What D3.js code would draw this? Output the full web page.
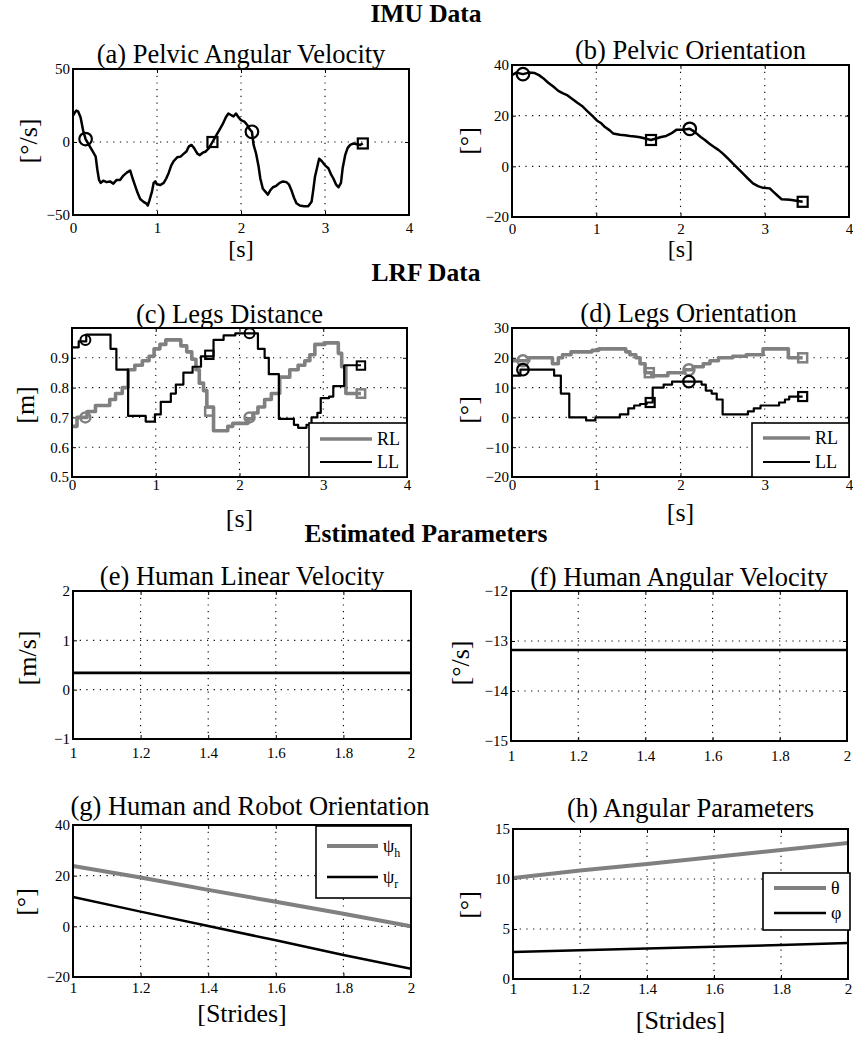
<!DOCTYPE html>
<html><head><meta charset="utf-8">
<script src="https://cdnjs.cloudflare.com/ajax/libs/d3/7.8.5/d3.min.js"></script>
<style>
body{margin:0;background:#fff}
svg{display:block}
text{font-family:"Liberation Serif","Times New Roman",serif;fill:#000}
</style>
</head><body>
<svg id="c" width="853" height="1040"></svg>
<script>
// ---------------- DATA ----------------
const sectionTitles = ["IMU Data", "LRF Data", "Estimated Parameters"];
const panelTitles = ["(a) Pelvic Angular Velocity","(b) Pelvic Orientation","(c) Legs Distance","(d) Legs Orientation",
  "(e) Human Linear Velocity","(f) Human Angular Velocity","(g) Human and Robot Orientation","(h) Angular Parameters"];

const ticksTime = [0,1,2,3,4];
const ticksStrides = [1,1.2,1.4,1.6,1.8,2];
const ticksA = [-50,0,50];
const ticksB = [-20,0,20,40];
const ticksC = [0.5,0.6,0.7,0.8,0.9];
const ticksD = [-20,-10,0,10,20,30];
const ticksE = [-1,0,1,2];
const ticksF = [-15,-14,-13,-12];
const ticksG = [-20,0,20,40];
const ticksH = [0,5,10,15];

// (a) pelvic angular velocity [t, deg/s]
const pelvicAngVel = [[0,18],[0.02,20],[0.04,21.5],[0.06,21],[0.09,17],[0.12,8],[0.15,2],[0.2,-3],[0.24,-7],[0.27,-10],[0.29,-19],[0.31,-26],[0.33,-28],[0.36,-26.5],[0.4,-27.5],[0.44,-27],[0.48,-28.5],[0.52,-26],[0.56,-26],[0.6,-23],[0.64,-21],[0.68,-19.5],[0.71,-25],[0.74,-30],[0.77,-35],[0.8,-39],[0.84,-41],[0.87,-42],[0.89,-43.5],[0.91,-40],[0.94,-34],[0.96,-28],[0.98,-27],[1.0,-29],[1.04,-29.5],[1.08,-28],[1.11,-25],[1.14,-21],[1.17,-16],[1.2,-13],[1.24,-10.5],[1.28,-10],[1.32,-8],[1.35,-6.5],[1.38,-3],[1.41,-2],[1.44,-4],[1.48,-8],[1.51,-9],[1.54,-7.5],[1.58,-6.5],[1.62,-4],[1.66,0],[1.7,4],[1.74,8],[1.78,12],[1.82,17],[1.85,19.5],[1.88,18.5],[1.91,17.5],[1.94,19.5],[1.97,17],[2.0,15],[2.04,14],[2.07,12],[2.1,9],[2.13,7],[2.15,-2],[2.18,-8],[2.21,-17],[2.23,-25],[2.26,-32],[2.29,-34],[2.32,-36],[2.35,-33],[2.38,-31],[2.42,-30],[2.46,-28],[2.5,-27],[2.54,-27.5],[2.57,-29],[2.6,-33],[2.63,-38],[2.66,-42],[2.7,-43.5],[2.75,-44],[2.8,-44],[2.84,-41],[2.86,-33],[2.88,-24],[2.9,-19],[2.93,-11.5],[2.96,-13],[3.0,-16],[3.04,-18],[3.07,-22],[3.1,-25],[3.13,-29],[3.16,-31],[3.19,-28],[3.21,-18],[3.24,-9],[3.27,-4],[3.3,-2],[3.34,-1],[3.38,-1.5],[3.42,-2],[3.45,-1]];
const circlesA = [[0.15,2],[2.13,7]];
const squaresA = [[1.66,0],[3.45,-1]];

// (b) pelvic orientation [t, deg]
const pelvicOrient = [[0,36],[0.05,37],[0.13,36.4],[0.2,37],[0.27,36.8],[0.32,36],[0.37,34.8],[0.43,33],[0.49,31.5],[0.55,29.8],[0.6,28.9],[0.66,28],[0.72,26.5],[0.78,25],[0.84,23.6],[0.9,21.6],[0.96,19.7],[1.01,18],[1.06,17],[1.1,15.6],[1.16,14.2],[1.2,13],[1.28,12.5],[1.34,12.3],[1.4,12],[1.46,11.8],[1.52,11.5],[1.58,11],[1.65,10.4],[1.71,11],[1.77,11.6],[1.83,12],[1.89,13],[1.95,14.4],[2.03,14.4],[2.11,14.8],[2.15,14],[2.19,13],[2.24,11.6],[2.29,10.4],[2.34,9],[2.39,7.8],[2.45,6.5],[2.5,5.1],[2.56,3.2],[2.62,1.2],[2.68,-0.8],[2.74,-2.8],[2.8,-4.8],[2.86,-6.7],[2.92,-7.8],[2.98,-8.5],[3.06,-8.7],[3.1,-10],[3.15,-11.5],[3.2,-13],[3.3,-13.2],[3.45,-14]];
const circlesB = [[0.13,36.4],[2.11,14.8]];
const squaresB = [[1.65,10.4],[3.45,-14]];

// (c) legs distance, step series [t, m]
const distRL = [[0,0.67],[0.06,0.70],[0.18,0.72],[0.28,0.74],[0.45,0.76],[0.52,0.78],[0.60,0.80],[0.67,0.86],[0.75,0.875],[0.84,0.89],[0.92,0.905],[0.98,0.93],[1.05,0.945],[1.12,0.96],[1.30,0.94],[1.37,0.92],[1.43,0.895],[1.48,0.86],[1.52,0.815],[1.57,0.79],[1.61,0.735],[1.69,0.655],[1.86,0.67],[1.92,0.68],[2.10,0.695],[2.16,0.715],[2.22,0.735],[2.30,0.76],[2.38,0.78],[2.48,0.835],[2.60,0.86],[2.70,0.875],[2.78,0.89],[2.84,0.91],[2.90,0.945],[3.02,0.95],[3.18,0.915],[3.22,0.87],[3.27,0.78],[3.45,0.78]];
const distLL = [[0,0.935],[0.08,0.955],[0.17,0.978],[0.46,0.93],[0.53,0.86],[0.67,0.705],[0.88,0.686],[0.99,0.71],[1.06,0.752],[1.18,0.78],[1.24,0.81],[1.33,0.85],[1.44,0.87],[1.54,0.905],[1.69,0.96],[1.81,0.975],[1.95,0.982],[2.22,0.93],[2.30,0.90],[2.35,0.845],[2.47,0.695],[2.65,0.675],[2.70,0.665],[2.80,0.675],[2.86,0.70],[2.93,0.715],[2.97,0.765],[3.07,0.77],[3.12,0.805],[3.25,0.875],[3.45,0.875]];
const circlesCRL = [[0.16,0.70],[2.12,0.70]];
const squaresCRL = [[1.64,0.72],[3.45,0.78]];
const circlesCLL = [[0.16,0.96],[2.12,0.982]];
const squaresCLL = [[1.64,0.91],[3.45,0.874]];

// (d) legs orientation, step series [t, deg]
const orientRL = [[0,19],[0.2,20],[0.48,18],[0.55,20],[0.6,21],[0.7,22],[0.95,22.5],[1.03,23],[1.35,22],[1.4,21],[1.47,20],[1.52,18],[1.58,15],[1.66,14],[1.85,15],[2.05,16],[2.15,17],[2.27,18],[2.35,19],[2.45,20],[2.62,20.5],[2.78,21],[2.98,23],[3.28,20],[3.45,20]];
const orientLL = [[0,14],[0.1,16],[0.5,14],[0.58,8],[0.68,0],[0.88,-1],[0.99,0],[1.28,1],[1.38,3],[1.45,4],[1.52,4.5],[1.6,5],[1.67,10],[1.8,11],[1.9,12],[2.25,11],[2.3,9],[2.37,8],[2.43,6],[2.5,1],[2.8,2],[2.87,3],[2.95,4],[3.17,5],[3.24,6],[3.29,7],[3.45,7]];
const circlesDRL = [[0.13,19],[2.1,16]];
const squaresDRL = [[1.63,15],[3.45,20]];
const circlesDLL = [[0.13,16],[2.1,12]];
const squaresDLL = [[1.64,5],[3.45,7]];

// (e)-(h) estimated parameters [stride, value]
const linVel = [[1,0.34],[2,0.34]];
const angVel = [[1,-13.18],[2,-13.18]];
const psiH = [[1,23.8],[1.2,19.3],[1.4,14.4],[1.6,9.7],[1.8,5.0],[2,0]];
const psiR = [[1,11.6],[1.2,5.8],[1.4,0.1],[1.6,-5.5],[1.8,-11.3],[2,-16.8]];
const theta = [[1,10.1],[1.2,10.85],[1.4,11.5],[1.6,12.2],[1.8,12.9],[2,13.6]];
const phi = [[1,2.7],[1.2,2.88],[1.4,3.05],[1.6,3.22],[1.8,3.4],[2,3.6]];

const legendLabels = ["RL","LL"];

// ---------------- DRAW ----------------
const svg = d3.select('#c');
const GRAY = '#808080';
const fmt = d => (d < 0 ? '\u2212' : '') + Math.abs(d);
const TITLE_FS = 26.5, LABEL_FS = 26, TICK_FS = 15;

function panel(cfg) {
  const x = d3.scaleLinear().domain(cfg.xd).range([cfg.l, cfg.r]);
  const y = d3.scaleLinear().domain(cfg.yd).range([cfg.b, cfg.t]);
  const g = svg.append('g');
  const innerX = cfg.xt.filter(v => v > cfg.xd[0] + 1e-9 && v < cfg.xd[1] - 1e-9);
  const innerY = cfg.yt.filter(v => v > cfg.yd[0] + 1e-9 && v < cfg.yd[1] - 1e-9);
  g.selectAll(null).data(innerX).join('line')
    .attr('x1', d => x(d)).attr('x2', d => x(d)).attr('y1', cfg.t).attr('y2', cfg.b)
    .attr('stroke', '#000').attr('stroke-width', 1.1).attr('stroke-dasharray', '1.2,5.5');
  g.selectAll(null).data(innerY).join('line')
    .attr('y1', d => y(d)).attr('y2', d => y(d)).attr('x1', cfg.l).attr('x2', cfg.r)
    .attr('stroke', '#000').attr('stroke-width', 1.1).attr('stroke-dasharray', '1.2,5.5');

  // axes
  const ax = [
    [d3.axisBottom(x).tickValues(cfg.xt).tickFormat(fmt).tickPadding(cfg.xpad), cfg.b, null],
    [d3.axisTop(x).tickValues(cfg.xt).tickFormat(''), cfg.t, null],
    [d3.axisLeft(y).tickValues(cfg.yt).tickFormat(cfg.yfmt || fmt).tickPadding(3), null, cfg.l],
    [d3.axisRight(y).tickValues(cfg.yt).tickFormat(''), null, cfg.r]
  ];
  ax.forEach(([a, ty, tx]) => {
    a.tickSizeInner(-4).tickSizeOuter(0);
    const ag = g.append('g').attr('transform', ty !== null ? `translate(0,${ty})` : `translate(${tx},0)`).call(a);
    ag.select('.domain').remove();
    ag.selectAll('line').attr('stroke', '#000').attr('stroke-width', 1);
    ag.selectAll('text').attr('font-size', TICK_FS).attr('font-family', '"Liberation Serif",serif');
  });

  // series
  const clip = 'clip' + Math.random().toString(36).slice(2);
  g.append('clipPath').attr('id', clip).append('rect')
    .attr('x', cfg.l).attr('y', cfg.t).attr('width', cfg.r - cfg.l).attr('height', cfg.b - cfg.t);
  cfg.series.forEach(s => {
    const line = d3.line().x(d => x(d[0])).y(d => y(d[1])).curve(s.step ? d3.curveStepAfter : d3.curveLinear);
    g.append('path').datum(s.data).attr('d', line).attr('fill', 'none')
      .attr('stroke', s.color).attr('stroke-width', s.w).attr('stroke-linejoin', 'round')
      .attr('clip-path', `url(#${clip})`);
  });
  (cfg.markers || []).forEach(m => {
    if (m.type === 'circle') {
      g.selectAll(null).data(m.data).join('circle')
        .attr('cx', d => x(d[0])).attr('cy', d => y(d[1])).attr('r', m.size)
        .attr('fill', 'none').attr('stroke', m.color).attr('stroke-width', m.sw);
    } else {
      g.selectAll(null).data(m.data).join('rect')
        .attr('x', d => x(d[0]) - m.size).attr('y', d => y(d[1]) - m.size)
        .attr('width', 2 * m.size).attr('height', 2 * m.size)
        .attr('fill', 'none').attr('stroke', m.color).attr('stroke-width', m.sw);
    }
  });

  // box
  g.append('rect').attr('x', cfg.l).attr('y', cfg.t).attr('width', cfg.r - cfg.l).attr('height', cfg.b - cfg.t)
    .attr('fill', 'none').attr('stroke', '#000').attr('stroke-width', 2);

  // legend
  if (cfg.legend) {
    const L = cfg.legend;
    g.append('rect').attr('x', L.x).attr('y', L.y).attr('width', L.w).attr('height', L.h)
      .attr('fill', '#fff').attr('stroke', '#000').attr('stroke-width', 1.6);
    L.items.forEach((it, i) => {
      const yy = L.y + L.row0 + i * L.dy;
      g.append('line').attr('x1', L.x + L.lx0).attr('x2', L.x + L.lx1).attr('y1', yy).attr('y2', yy)
        .attr('stroke', it.color).attr('stroke-width', it.w);
      const t = g.append('text').attr('x', L.x + L.lx1 + 5).attr('y', yy + 6).attr('font-size', 18);
      t.append('tspan').text(it.label);
      if (it.sub) t.append('tspan').attr('font-size', 12).attr('dy', 5).text(it.sub);
    });
  }

  // title & labels
  svg.append('text').attr('x', (cfg.l + cfg.r) / 2 + (cfg.tdx || 0)).attr('y', cfg.ty)
    .attr('text-anchor', 'middle').attr('font-size', TITLE_FS).text(cfg.title);
  if (cfg.xlabel) {
    svg.append('text').attr('x', (cfg.l + cfg.r) / 2).attr('y', cfg.xly)
      .attr('text-anchor', 'middle').attr('font-size', cfg.xlfs || LABEL_FS).text(cfg.xlabel);
  }
  svg.append('text').attr('transform', `translate(${cfg.ylx},${cfg.yly}) rotate(-90)`)
    .attr('text-anchor', 'middle').attr('dominant-baseline', 'central').attr('font-size', LABEL_FS).text(cfg.ylabel);
}

// section titles
[[sectionTitles[0], 22], [sectionTitles[1], 281], [sectionTitles[2], 542]].forEach(([t, yy]) => {
  svg.append('text').attr('x', 426).attr('y', yy).attr('text-anchor', 'middle')
    .attr('font-size', 25.5).attr('font-weight', 'bold').text(t);
});

panel({l:73, r:409, t:69, b:215, xd:[0,4], yd:[-50,50], xt:ticksTime, yt:ticksA, xpad:7,
  title:panelTitles[0], ty:63, xlabel:'[s]', xly:257, xlfs:24, ylabel:'[\u00b0/s]', ylx:28, yly:141,
  series:[{data:pelvicAngVel, color:'#000', w:2.5}],
  markers:[{type:'circle', data:circlesA, size:6.3, color:'#000', sw:2.2},{type:'square', data:squaresA, size:5, color:'#000', sw:2.2}]});

panel({l:512, r:849, t:65, b:217, xd:[0,4], yd:[-20,40], xt:ticksTime, yt:ticksB, xpad:6,
  title:panelTitles[1], ty:59, tdx:10, xlabel:'[s]', xly:257, xlfs:24, ylabel:'[\u00b0]', ylx:468, yly:141,
  series:[{data:pelvicOrient, color:'#000', w:2.5}],
  markers:[{type:'circle', data:circlesB, size:6.3, color:'#000', sw:2.2},{type:'square', data:squaresB, size:5, color:'#000', sw:2.2}]});

panel({l:72, r:407, t:328, b:477, xd:[0,4], yd:[0.5,1.0], xt:ticksTime, yt:ticksC, xpad:2,
  yfmt: d => d.toFixed(1),
  title:panelTitles[2], ty:323, tdx:-10, xlabel:'[s]', xly:527, ylabel:'[m]', ylx:25, yly:405,
  series:[{data:distRL, color:GRAY, w:3.6, step:true},{data:distLL, color:'#000', w:2.2, step:true}],
  markers:[{type:'circle', data:circlesCRL, size:5, color:GRAY, sw:2.5},{type:'square', data:squaresCRL, size:4.2, color:GRAY, sw:2.5},
           {type:'circle', data:circlesCLL, size:5, color:'#000', sw:2},{type:'square', data:squaresCLL, size:4.2, color:'#000', sw:2}],
  legend:{x:309, y:423, w:98, h:54, lx0:11, lx1:63, row0:16, dy:23,
    items:[{label:legendLabels[0], color:GRAY, w:3.6},{label:legendLabels[1], color:'#000', w:2.2}]}});

panel({l:512, r:849, t:328, b:477, xd:[0,4], yd:[-20,30], xt:ticksTime, yt:ticksD, xpad:2,
  title:panelTitles[3], ty:322, tdx:8, xlabel:'[s]', xly:521, ylabel:'[\u00b0]', ylx:468, yly:410,
  series:[{data:orientRL, color:GRAY, w:3.6, step:true},{data:orientLL, color:'#000', w:2.2, step:true}],
  markers:[{type:'circle', data:circlesDRL, size:5.5, color:GRAY, sw:2.5},{type:'square', data:squaresDRL, size:4.5, color:GRAY, sw:2.5},
           {type:'circle', data:circlesDLL, size:5.8, color:'#000', sw:2.2},{type:'square', data:squaresDLL, size:4.5, color:'#000', sw:2.2}],
  legend:{x:752, y:423, w:97, h:54, lx0:11, lx1:58, row0:15, dy:24,
    items:[{label:legendLabels[0], color:GRAY, w:3.6},{label:legendLabels[1], color:'#000', w:2.2}]}});

panel({l:73, r:411, t:591, b:739, xd:[1,2], yd:[-1,2], xt:ticksStrides, yt:ticksE, xpad:8,
  title:panelTitles[4], ty:585, xlabel:'', xly:0, ylabel:'[m/s]', ylx:27, yly:658,
  series:[{data:linVel, color:'#000', w:2.6}]});

panel({l:511, r:847, t:591, b:741, xd:[1,2], yd:[-15,-12], xt:ticksStrides, yt:ticksF, xpad:9,
  title:panelTitles[5], ty:586, xlabel:'', xly:0, ylabel:'[\u00b0/s]', ylx:460, yly:663,
  series:[{data:angVel, color:'#000', w:2.6}]});

panel({l:73, r:411, t:825, b:977, xd:[1,2], yd:[-20,40], xt:ticksStrides, yt:ticksG, xpad:5,
  title:panelTitles[6], ty:815, tdx:8, xlabel:'[Strides]', xly:1022, ylabel:'[\u00b0]', ylx:25, yly:902,
  series:[{data:psiH, color:GRAY, w:4},{data:psiR, color:'#000', w:2.5}],
  legend:{x:316, y:826, w:95, h:72, lx0:11, lx1:62, row0:20, dy:31,
    items:[{label:'\u03c8', sub:'h', color:GRAY, w:4},{label:'\u03c8', sub:'r', color:'#000', w:2.5}]}});

panel({l:513, r:848, t:829, b:979, xd:[1,2], yd:[0,15], xt:ticksStrides, yt:ticksH, xpad:4,
  title:panelTitles[7], ty:817, tdx:10, xlabel:'[Strides]', xly:1029, ylabel:'[\u00b0]', ylx:468, yly:905,
  series:[{data:theta, color:GRAY, w:3.8},{data:phi, color:'#000', w:2.5}],
  legend:{x:763, y:873, w:87, h:57, lx0:11, lx1:63, row0:15, dy:25,
    items:[{label:'\u03b8', color:GRAY, w:3.8},{label:'\u03c6', color:'#000', w:2.5}]}});
</script>
</body></html>
